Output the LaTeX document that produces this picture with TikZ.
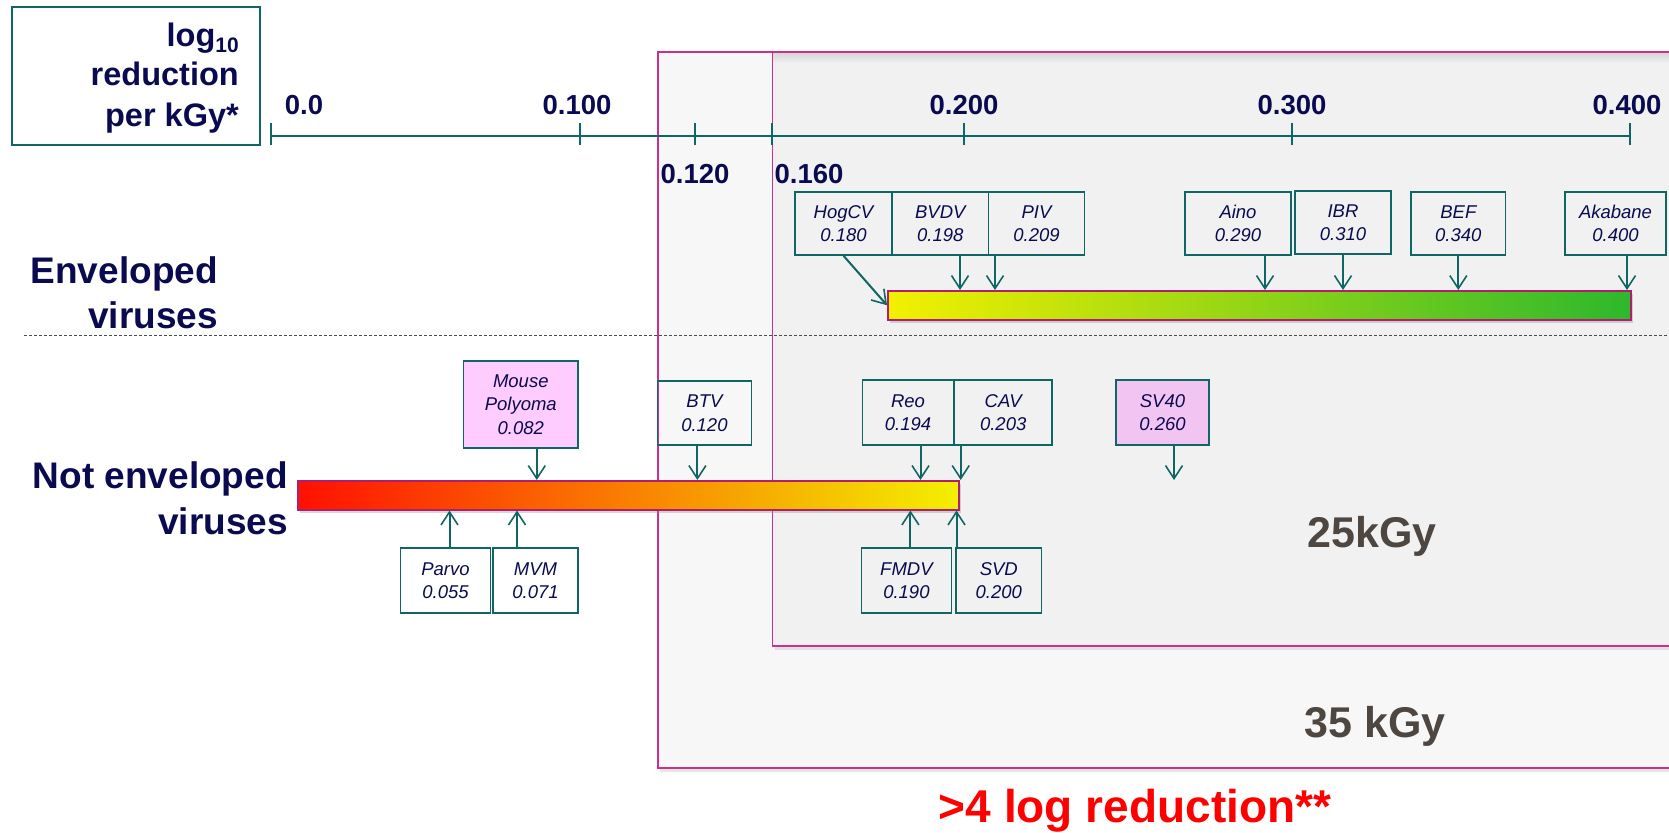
\documentclass[tikz,border=0pt]{standalone}
\usepackage{fontspec}
\setmainfont{Liberation Sans}
\usetikzlibrary{arrows.meta,shadows}

\definecolor{teal1}{HTML}{106565}
\definecolor{navy1}{HTML}{0A0A50}
\definecolor{rimpink}{HTML}{D02E8C}
\definecolor{barrim}{HTML}{B01E6E}
\definecolor{outerfill}{HTML}{F7F7F7}
\definecolor{innerfill}{HTML}{F1F1F1}
\definecolor{dosegray}{HTML}{4D4641}
\definecolor{polypink}{HTML}{FFCCFF}
\definecolor{svpink}{HTML}{F2C4F2}
\definecolor{barred}{HTML}{FF1000}
\definecolor{barorange}{HTML}{FF9C00}
\definecolor{baryellow}{HTML}{F3F000}
\definecolor{bargreen}{HTML}{2DB82D}

\begin{document}
\begin{tikzpicture}[x=1pt,y=-1pt,
  vbox/.style={draw=teal1, line width=1.5pt, inner sep=0pt, align=center,
    text=navy1, font=\itshape\fontsize{18.5}{23.5}\selectfont},
  arr/.style={draw=teal1, line width=2pt,
    -{Straight Barb[length=13pt,width=17pt,line width=1.6pt]}},
  axl/.style={text=navy1, inner sep=0pt, font=\bfseries\fontsize{27.5}{30}\selectfont},
  ttl/.style={text=navy1, inner sep=0pt, font=\bfseries\fontsize{32.5}{36}\selectfont},
  grp/.style={text=navy1, inner sep=0pt, font=\bfseries\fontsize{37}{44}\selectfont},
  dose/.style={text=dosegray, inner sep=0pt, font=\bfseries\fontsize{43}{48}\selectfont},
  bar/.style={draw=barrim, line width=1.5pt, inner sep=0pt, anchor=north west,
    drop shadow={shadow xshift=2pt, shadow yshift=-3pt, opacity=.35, fill=black!45}},
  boxshadow/.style={drop shadow={shadow xshift=2pt, shadow yshift=-4pt, opacity=.25, fill=black!40}}
]
\useasboundingbox (0,0) rectangle (1669,832);

% dose regions
\path[fill=outerfill, draw=rimpink, line width=1.2pt, boxshadow] (658,52) rectangle (1700,768);
\path[fill=innerfill, draw=rimpink, line width=1.2pt, boxshadow] (772.5,52) rectangle (1700,646);
\shade[top color=black!16, bottom color=innerfill] (773.5,53) rectangle (1669,63);
\draw[rimpink, line width=1.2pt] (658,52) -- (1669,52);

% axis title
\node[draw=teal1, line width=2pt, minimum width=248pt, minimum height=138pt, anchor=north west] (titlebox) at (11,6) {};
\node[ttl, anchor=base east] (t1) at (239,47) {log\raisebox{-6pt}{\fontsize{21}{21}\selectfont 10}};
\node[ttl, anchor=base east] (t2) at (239,86) {reduction};
\node[ttl, anchor=base east] (t3) at (239,127) {per kGy*};

% axis
\draw[teal1, line width=2pt] (271,136) -- (1630,136);
\foreach \t in {271,580,695,772,964,1292,1630}
  \draw[teal1, line width=1.5pt] (\t,123) -- (\t,145);
\node[axl, anchor=base] (a0) at (304,115) {0.0};
\node[axl, anchor=base] (a1) at (577,115) {0.100};
\node[axl, anchor=base] (a2) at (964,115) {0.200};
\node[axl, anchor=base] (a3) at (1292,115) {0.300};
\node[axl, anchor=base] (a4) at (1627,115) {0.400};
\node[axl, anchor=base] (a12) at (695,183) {0.120};
\node[axl, anchor=base] (a16) at (809,183) {0.160};

% group labels
\node[grp, anchor=base east] (env1) at (218,283) {Enveloped};
\node[grp, anchor=base east] (env2) at (218,328) {viruses};
\node[grp, anchor=base east] (nenv1) at (288,488) {Not enveloped};
\node[grp, anchor=base east] (nenv2) at (288,534) {viruses};

% separator
\draw[black!70, line width=1pt, dash pattern=on 3pt off 2pt] (24,335) -- (1669,335);

% bars
\node[bar, minimum width=743pt, minimum height=29pt, left color=baryellow, right color=bargreen] (envbar) at (887,290) {};
\node[bar, minimum width=661pt, minimum height=29pt, left color=barred, middle color=barorange, right color=baryellow] (nevbar) at (297,480) {};

% enveloped viruses
\node[vbox, minimum width=97pt, minimum height=63pt] (hog) at (843.5,223.5) {HogCV\\0.180};
\node[vbox, minimum width=96.6pt, minimum height=63pt] (bvdv) at (940.3,223.5) {BVDV\\0.198};
\node[vbox, minimum width=96pt, minimum height=63pt] (piv) at (1036.5,223.5) {PIV\\0.209};
\node[vbox, minimum width=106pt, minimum height=63pt] (aino) at (1238,223.5) {Aino\\0.290};
\node[vbox, minimum width=96pt, minimum height=63pt] (ibr) at (1343,222.5) {IBR\\0.310};
\node[vbox, minimum width=94.6pt, minimum height=63pt] (bef) at (1458.3,223.5) {BEF\\0.340};
\node[vbox, minimum width=101pt, minimum height=63pt] (aka) at (1615.5,223.5) {Akabane\\0.400};

\draw[arr] (hog.south) -- (envbar.west);
\draw[arr] ([xshift=19.7pt]bvdv.south) -- ([xshift=19.7pt]bvdv.south |- envbar.north);
\draw[arr] ([xshift=-41.5pt]piv.south) -- ([xshift=-41.5pt]piv.south |- envbar.north);
\draw[arr] ([xshift=27pt]aino.south) -- ([xshift=27pt]aino.south |- envbar.north);
\draw[arr] (ibr.south) -- (ibr.south |- envbar.north);
\draw[arr] (bef.south) -- (bef.south |- envbar.north);
\draw[arr] ([xshift=11.5pt]aka.south) -- ([xshift=11.5pt]aka.south |- envbar.north);

% not enveloped viruses, above the bar
\node[vbox, fill=polypink, minimum width=114.4pt, minimum height=87pt] (mpoly) at (520.8,404.5) {Mouse\\Polyoma\\0.082};
\node[vbox, minimum width=94pt, minimum height=64pt] (btv) at (704.4,413) {BTV\\0.120};
\node[vbox, minimum width=91pt, minimum height=65pt] (reo) at (908,412.5) {Reo\\0.194};
\node[vbox, minimum width=97.6pt, minimum height=65pt] (cav) at (1003.2,412.5) {CAV\\0.203};
\node[vbox, fill=svpink, minimum width=93pt, minimum height=65pt] (sv40) at (1162.5,412.5) {SV40\\0.260};
\coordinate (sv40tip) at (1174,480);

\draw[arr] ([xshift=16pt]mpoly.south) -- ([xshift=16pt]mpoly.south |- nevbar.north);
\draw[arr] ([xshift=-7pt]btv.south) -- ([xshift=-7pt]btv.south |- nevbar.north);
\draw[arr] ([xshift=12.5pt]reo.south) -- ([xshift=12.5pt]reo.south |- nevbar.north);
\draw[arr] ([xshift=-42.5pt]cav.south) -- ([xshift=-42.5pt]cav.south |- nevbar.north);
\draw[arr] (sv40.south -| sv40tip) -- (sv40tip);

% not enveloped viruses, below the bar
\node[vbox, minimum width=90pt, minimum height=65pt] (parvo) at (445.5,580.5) {Parvo\\0.055};
\node[vbox, minimum width=85pt, minimum height=65pt] (mvm) at (535.5,580.5) {MVM\\0.071};
\node[vbox, minimum width=90pt, minimum height=65pt] (fmdv) at (906.4,580.5) {FMDV\\0.190};
\node[vbox, minimum width=85.6pt, minimum height=65pt] (svd) at (998.8,580.5) {SVD\\0.200};

\draw[arr] ([xshift=4pt]parvo.north) -- ([xshift=4pt]parvo.north |- nevbar.south);
\draw[arr] ([xshift=-18.5pt]mvm.north) -- ([xshift=-18.5pt]mvm.north |- nevbar.south);
\draw[arr] ([xshift=4pt]fmdv.north) -- ([xshift=4pt]fmdv.north |- nevbar.south);
\draw[arr] ([xshift=-42.3pt]svd.north) -- ([xshift=-42.3pt]svd.north |- nevbar.south);

% dose labels
\node[dose, anchor=base] (d25) at (1372,547) {25kGy};
\node[dose, anchor=base] (d35) at (1375,737) {35 kGy};
\node[text=red, inner sep=0pt, font=\bfseries\fontsize{46}{50}\selectfont, anchor=base] (logred) at (1135,822) {>4 log reduction**};
\end{tikzpicture}
\end{document}
